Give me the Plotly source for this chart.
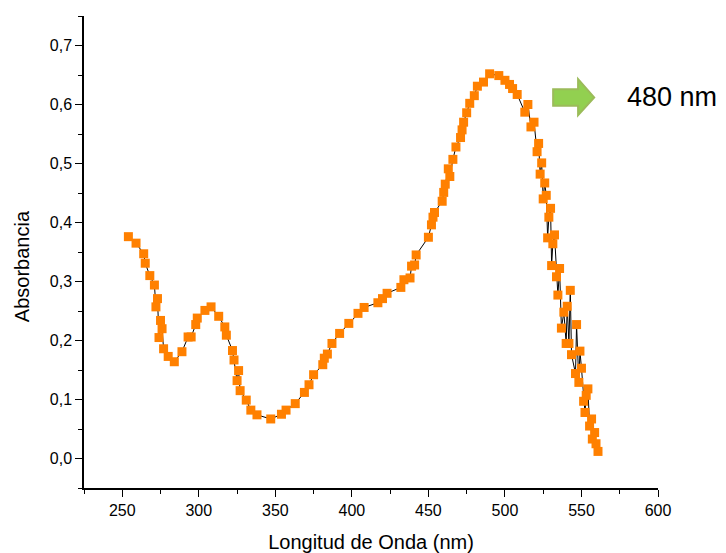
import plotly.graph_objects as go

wavelength = [254, 259, 264, 265, 268, 271, 272, 273, 274, 275, 276, 277, 280, 284, 289, 293, 295, 298, 299,
              304, 308, 313, 317, 318, 322, 323, 325, 326, 327, 331, 334, 338, 347, 354, 357, 363, 369, 372,
              375, 381, 382, 384, 387, 392, 398, 404, 408, 417, 420, 423, 432, 434, 438, 439, 441, 442, 450,
              452, 453, 454, 459, 460, 461, 463, 464, 466, 468, 471, 472, 473, 475, 477, 480, 482, 486, 490,
              496, 500, 503, 505, 508, 513, 515, 517, 519, 521, 522, 523, 524, 525, 526, 527, 527.9, 528.7,
              529.8, 530.5, 531.3, 532.4, 533.7, 534.6, 535.7, 536.9, 538.5, 540, 540.7, 541.8, 542.7, 543.5,
              546.1, 546.8, 548.3, 549, 550, 551.4, 552.3, 553.1, 554.2, 555.3, 556.6, 557.1, 558.6, 559.5, 560.8]
absorbance = [0.376, 0.365, 0.347, 0.331, 0.310, 0.294, 0.257, 0.271, 0.205, 0.234, 0.220, 0.186, 0.173, 0.164,
              0.181, 0.206, 0.206, 0.227, 0.238, 0.251, 0.257, 0.241, 0.223, 0.209, 0.183, 0.167, 0.132, 0.149,
              0.115, 0.099, 0.082, 0.074, 0.067, 0.075, 0.082, 0.093, 0.112, 0.125, 0.142, 0.159, 0.170, 0.177,
              0.195, 0.212, 0.229, 0.246, 0.256, 0.264, 0.271, 0.280, 0.290, 0.303, 0.306, 0.326, 0.328, 0.345,
              0.375, 0.396, 0.409, 0.417, 0.436, 0.451, 0.465, 0.491, 0.478, 0.507, 0.528, 0.544, 0.557, 0.570,
              0.586, 0.602, 0.615, 0.631, 0.638, 0.652, 0.649, 0.641, 0.634, 0.627, 0.617, 0.587, 0.600, 0.562,
              0.570, 0.520, 0.534, 0.482, 0.501, 0.440, 0.467, 0.446, 0.374, 0.409, 0.424, 0.327, 0.364, 0.379,
              0.308, 0.277, 0.322, 0.221, 0.248, 0.195, 0.258, 0.195, 0.285, 0.176, 0.144, 0.227, 0.129, 0.182,
              0.153, 0.097, 0.078, 0.107, 0.118, 0.055, 0.067, 0.033, 0.044, 0.025, 0.012]

x_ticks = [250, 300, 350, 400, 450, 500, 550, 600]
y_ticks = [0.0, 0.1, 0.2, 0.3, 0.4, 0.5, 0.6, 0.7]
y_tick_labels = ["0,0", "0,1", "0,2", "0,3", "0,4", "0,5", "0,6", "0,7"]
peak_label = "480 nm"

FONT = "Liberation Sans, Arial, sans-serif"

fig = go.Figure()
fig.add_trace(go.Scatter(
    x=wavelength, y=absorbance, mode="lines+markers",
    line=dict(color="black", width=1),
    marker=dict(symbol="square", size=9, color="#ff8000", line=dict(width=0)),
    showlegend=False,
))

# green arrow pointing to the right
ax0, ax1, ax2 = 531.5, 547.8, 558.3
ay_top, ay_bt, ab_top, ab_bt, ay_mid = 0.643, 0.582, 0.626, 0.598, 0.612
path = (f"M {ax0},{ab_top} L {ax1},{ab_top} L {ax1},{ay_top} L {ax2},{ay_mid} "
        f"L {ax1},{ay_bt} L {ax1},{ab_bt} L {ax0},{ab_bt} Z")
fig.add_shape(type="path", path=path, xref="x", yref="y",
              fillcolor="#92d050", line=dict(color="#9bbb59", width=2))

fig.add_annotation(x=578.5, y=ay_mid, xref="x", yref="y", text=peak_label, showarrow=False,
                   xanchor="left", yanchor="middle",
                   font=dict(family=FONT, size=27, color="black"))

# y-axis title (placed slightly below the plot centre as in the reference)
fig.add_annotation(x=-0.108, y=0.47, xref="paper", yref="paper", text="Absorbancia",
                   showarrow=False, textangle=-90, xanchor="center", yanchor="middle",
                   font=dict(family=FONT, size=20, color="black"))

axis_font = dict(family=FONT, size=16, color="black")
fig.update_layout(
    width=726, height=553,
    margin=dict(l=84, r=68, t=16, b=65),
    paper_bgcolor="white", plot_bgcolor="white",
    font=axis_font,
    xaxis=dict(
        range=[225, 600], tickvals=x_ticks, ticks="outside", ticklen=7, tickwidth=1, tickcolor="black",
        minor=dict(dtick=25, tick0=225, ticks="outside", ticklen=4, tickcolor="black"),
        showline=True, linecolor="black", linewidth=1.5, showgrid=False, zeroline=False,
        automargin=False,
        title=dict(text="Longitud de Onda (nm)", font=dict(family=FONT, size=20), standoff=18),
        tickfont=axis_font,
    ),
    yaxis=dict(
        range=[-0.05, 0.75], tickvals=y_ticks, ticktext=y_tick_labels, ticks="outside", ticklen=7,
        tickwidth=1, tickcolor="black",
        minor=dict(dtick=0.05, tick0=0, ticks="outside", ticklen=4, tickcolor="black"),
        showline=True, linecolor="black", linewidth=1.5, showgrid=False, zeroline=False,
        automargin=False,
        tickfont=axis_font,
    ),
)

fig.write_html("out.html")
